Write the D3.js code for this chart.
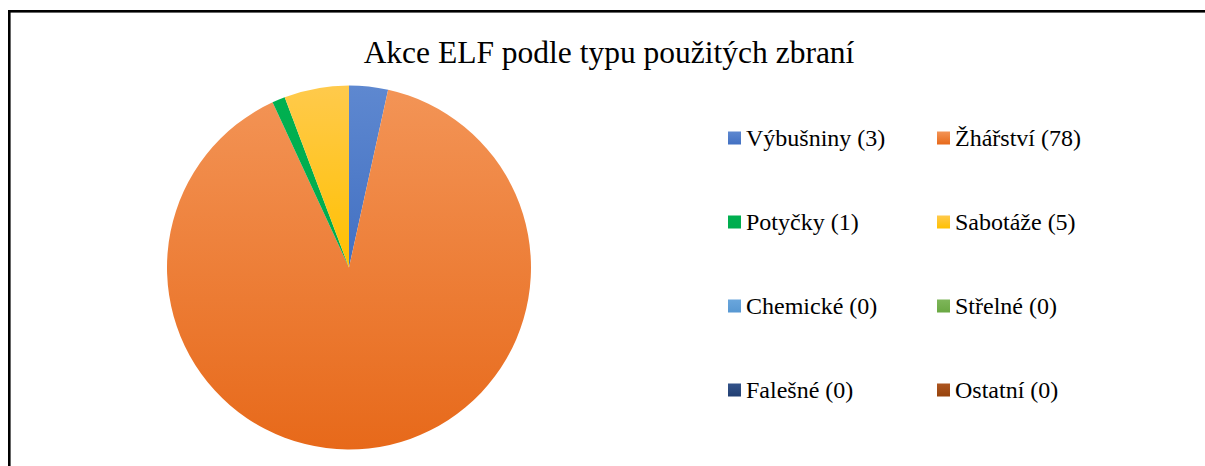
<!DOCTYPE html>
<html>
<head>
<meta charset="utf-8">
<script src="https://cdn.jsdelivr.net/npm/d3@7"></script>
<style>
  body { margin: 0; background: #fff; }
  svg { display: block; }
</style>
</head>
<body>
<script>
// data
const categories = ['Výbušniny', 'Žhářství', 'Potyčky', 'Sabotáže', 'Chemické', 'Střelné', 'Falešné', 'Ostatní']
const counts = [3, 78, 1, 5, 0, 0, 0, 0]
const title = 'Akce ELF podle typu použitých zbraní'

// gradient colours: top / bottom
const colorsTop = ['#5E88D0', '#F39456', '#00B050', '#FFCA4C', '#6AA6DC', '#7EB65A', '#33538A', '#AD5620']
const colorsBottom = ['#4270C2', '#E7691A', '#00AC4E', '#FFC000', '#5898D2', '#6AA843', '#223F72', '#96430C']

const dim = {width: 1205, height: 466}
const svg = d3.select('body').append('svg').attr('width', dim.width).attr('height', dim.height)

const defs = svg.append('defs')
colorsTop.forEach((c, i) => {
    const g = defs.append('linearGradient').attr('id', 'grad' + i)
        .attr('x1', 0).attr('y1', 0).attr('x2', 0).attr('y2', 1)
    g.append('stop').attr('offset', '0%').attr('stop-color', c)
    g.append('stop').attr('offset', '100%').attr('stop-color', colorsBottom[i])
})

// chart frame (cut off at right and bottom)
svg.append('rect').attr('x', 9.3).attr('y', 11.3).attr('width', 1300).attr('height', 600)
    .attr('fill', 'none').attr('stroke', '#000').attr('stroke-width', 2.6)

svg.append('text').attr('x', 609).attr('y', 63).attr('text-anchor', 'middle')
    .attr('font-family', '"Liberation Serif", "Times New Roman", serif').attr('font-size', 31.5)
    .attr('fill', '#000').text(title)

/* PIE */
const cx = 349, cy = 267.5, r = 182
const pie = d3.pie().sort(null).value(d => d.v)
const arc = d3.arc().innerRadius(0).outerRadius(r)
const data = categories.map((name, i) => ({name, v: counts[i], i}))

svg.append('g').attr('transform', `translate(${cx},${cy})`)
    .selectAll('path').data(pie(data).filter(d => d.data.v > 0)).enter().append('path')
    .attr('d', arc)
    .attr('fill', d => `url(#grad${d.data.i})`)

/* LEGEND - two columns, four rows */
const colX = d3.scalePoint().domain([0, 1]).range([728, 937])
const rowY = d3.scalePoint().domain([0, 1, 2, 3]).range([138, 390])
const box = 13

const items = svg.append('g').selectAll('g').data(data).enter().append('g')
    .attr('transform', d => `translate(${colX(d.i % 2)},${rowY(Math.floor(d.i / 2))})`)
items.append('rect').attr('x', 0).attr('y', -box / 2).attr('width', box).attr('height', box)
    .attr('fill', d => `url(#grad${d.i})`)
items.append('text').attr('x', 18).attr('y', 8)
    .attr('font-family', '"Liberation Serif", "Times New Roman", serif').attr('font-size', 24)
    .attr('fill', '#000').text(d => `${d.name} (${d.v})`)
</script>
</body>
</html>
